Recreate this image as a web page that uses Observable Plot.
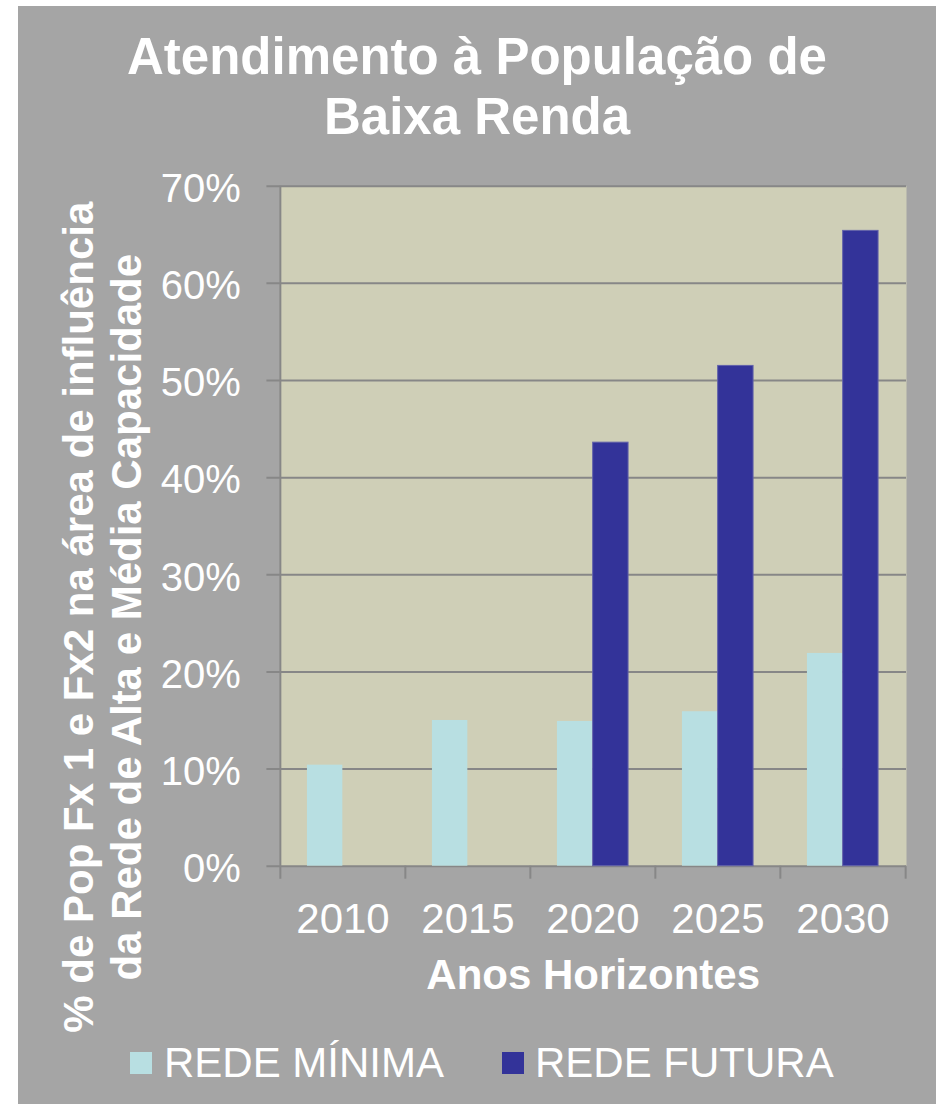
<!DOCTYPE html>
<html>
<head>
<meta charset="utf-8">
<script src="https://cdn.jsdelivr.net/npm/d3@7"></script>
<script src="https://cdn.jsdelivr.net/npm/@observablehq/plot@0.6"></script>
<style>
  html, body { margin: 0; padding: 0; background: #ffffff; }
  body { width: 936px; height: 1104px; position: relative; overflow: hidden;
         font-family: "Liberation Sans", Arial, sans-serif; }
  #card { position: absolute; left: 18px; top: 6px; width: 918px; height: 1098px; background: #a5a5a5; }
  #title { position: absolute; left: 0; top: 21.3px; width: 918px; text-align: center;
           color: #ffffff; font-weight: bold; font-size: 51px; line-height: 60px; }
  #chart { position: absolute; left: 0; top: 144px; }
  .lg-item { position: absolute; top: 1036.2px; height: 42px; line-height: 42px; color: #ffffff; font-size: 42px; white-space: nowrap; }
  .lg-sw { position: absolute; width: 22px; height: 22px; }
</style>
</head>
<body>
<div id="card">
  <div id="title"></div>
  <div id="chart"></div>
  <div id="legend"></div>
</div>
<script>
// ---- data ----
const titleLines = ["Atendimento à População de", "Baixa Renda"];
const years = ["2010", "2015", "2020", "2025", "2030"];
const seriesNames = ["REDE MÍNIMA", "REDE FUTURA"];
const redeMinima = [0.104, 0.150, 0.149, 0.159, 0.219];
const redeFutura = [null, null, 0.436, 0.515, 0.654];
const yTicks = [0, 0.1, 0.2, 0.3, 0.4, 0.5, 0.6, 0.7];
const xTitle = "Anos Horizontes";
const yTitle = "% de Pop Fx 1 e Fx2 na área de influência\nda Rede de Alta e Média Capacidade";
const colors = ["#b8dfe2", "#333399"];

// ---- layout ----
const W = 918, H = 896;
const mL = 261.4, mR = 30;
</script>
<script>
(function () {
  const top = 144 + 6;               // svg top in page coords
  const marginTop = 185.7 - top;
  const marginBottom = (top + H) - 865.7;
  const marginLeft = mL, marginRight = mR;
  const bw = (W - marginLeft - marginRight) / years.length;
  const outer = 0.215 * bw;

  const rowsMin = years.map((y, i) => ({year: y, value: redeMinima[i], series: seriesNames[0]}));
  const rowsFut = years.map((y, i) => ({year: y, value: redeFutura[i], series: seriesNames[1]}))
                       .filter(d => d.value != null);

  const grid = "#878787";
  const font = "Liberation Sans, Arial, sans-serif";

  const plot = Plot.plot({
    width: W,
    height: H,
    marginLeft, marginRight, marginTop, marginBottom,
    style: {background: "transparent", color: "#ffffff", fontFamily: font, overflow: "visible"},
    x: {type: "band", domain: years, padding: 0},
    y: {domain: [0, 0.7]},
    marks: [
      Plot.frame({fill: "#cfcfb7", stroke: null}),
      Plot.gridY(yTicks, {stroke: grid, strokeOpacity: 1, strokeWidth: 2, insetLeft: -13}),
      Plot.barY(rowsMin, {x: "year", y: "value", fill: colors[0], insetLeft: outer, insetRight: bw / 2}),
      Plot.barY(rowsFut, {x: "year", y: "value", fill: colors[1], stroke: "#6262aa", strokeWidth: 1,
                          insetLeft: bw / 2, insetRight: outer}),
      // left axis line, extended below the baseline
      Plot.ruleX([years[0]], {x: d => d, dx: -bw / 2, y1: 0.7, y2: 0, insetBottom: -13, stroke: grid, strokeWidth: 2}),
      // category boundary ticks below the axis
      Plot.ruleX(years.slice(1), {x: d => d, dx: -bw / 2, y1: 0, y2: 0, insetBottom: -13, stroke: grid, strokeWidth: 2}),
      Plot.ruleX([years[years.length - 1]], {x: d => d, dx: bw / 2, y1: 0, y2: 0, insetBottom: -13, stroke: grid, strokeWidth: 2}),
      Plot.axisY(yTicks, {tickSize: 0, tickPadding: 39, dy: 3, tickFormat: d3.format(".0%"),
                          fontSize: 40, fill: "#ffffff", label: null}),
      Plot.axisX({tickSize: 0, tickPadding: 37, fontSize: 42, fill: "#ffffff", label: null}),
      Plot.text([xTitle], {frameAnchor: "bottom", text: d => d, textAnchor: "middle", lineAnchor: "middle",
                           dy: 109.2, fontSize: 42, fontWeight: "bold", fill: "#ffffff"}),
      Plot.text([yTitle], {frameAnchor: "left", text: d => d, rotate: -90, textAnchor: "middle", lineAnchor: "middle",
                           lineHeight: 1.15, dx: 82.7 - marginLeft, dy: 91,
                           fontSize: 42, fontWeight: "bold", fill: "#ffffff"})
    ]
  });
  document.getElementById("chart").appendChild(plot);

  // title
  document.getElementById("title").innerHTML = titleLines.join("<br>");

  // legend
  const legend = document.getElementById("legend");
  const swX = [130 - 18, 501.7 - 18];
  const txX = [164 - 18, 535 - 18];
  seriesNames.forEach((name, i) => {
    const sw = document.createElement("div");
    sw.className = "lg-sw";
    sw.style.left = swX[i] + "px";
    sw.style.top = (1051.7 - 6) + "px";
    sw.style.background = colors[i];
    legend.appendChild(sw);
    const t = document.createElement("div");
    t.className = "lg-item";
    t.style.left = txX[i] + "px";
    t.textContent = name;
    legend.appendChild(t);
  });
})();
</script>
</body>
</html>
